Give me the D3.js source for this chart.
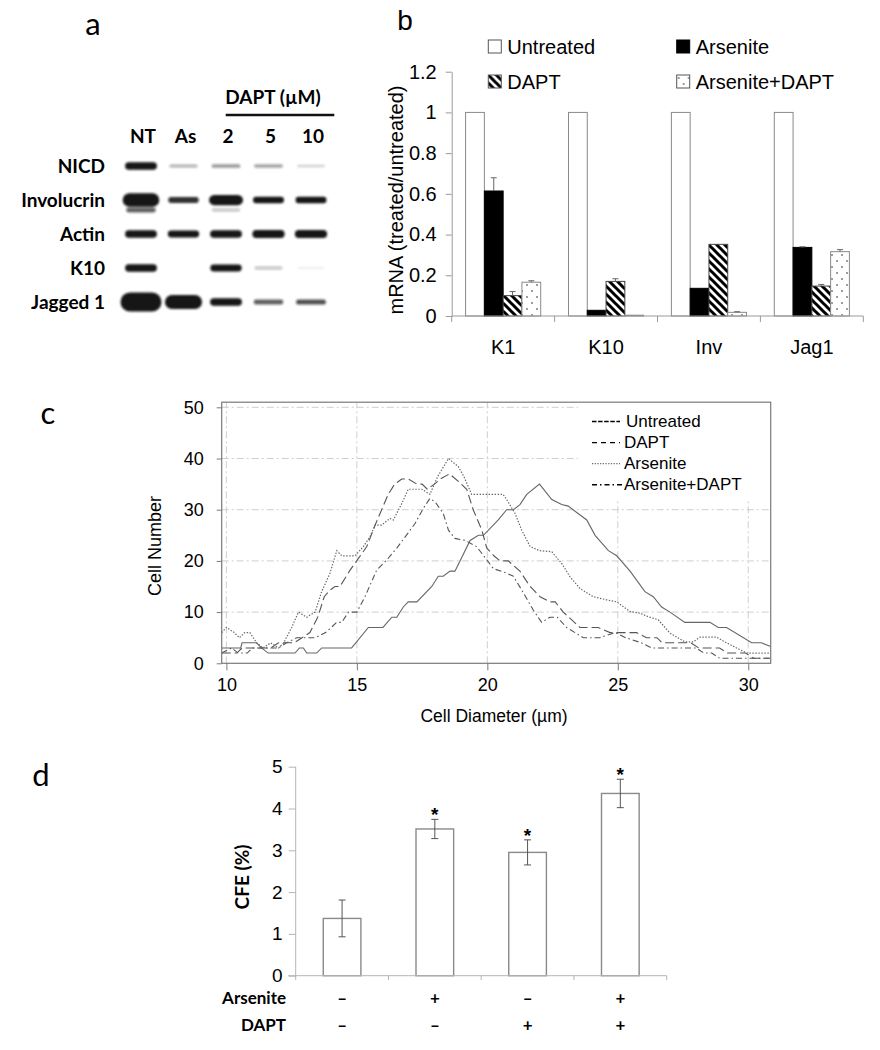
<!DOCTYPE html>
<html><head><meta charset="utf-8">
<script src="https://cdn.jsdelivr.net/npm/d3@7"></script>
<style>body{margin:0;background:#fff}svg{display:block}</style>
</head><body>
<svg id="fig" width="880" height="1050"></svg>
<script>
// ---------------- Panel a : western blot (relative band intensities) ----------------
const blotLanes = ["NT","As","2","5","10"];
const blotRows = ["NICD","Involucrin","Actin","K10","Jagged 1"];
const blotNICD = [0.55,0.15,0.2,0.18,0.08];
const blotInvolucrin = [1.1,0.4,0.8,0.45,0.45];
const blotInvolucrinLower = [0.3,0,0.12,0,0];
const blotActin = [0.55,0.5,0.55,0.6,0.6];
const blotK10 = [0.55,0,0.5,0.12,0.03];
const blotJagged1 = [1.6,1.15,0.55,0.3,0.33];

// ---------------- Panel b : mRNA ----------------
const mrnaGenes = ["K1","K10","Inv","Jag1"];
const mrnaSeries = ["Untreated","Arsenite","DAPT","Arsenite+DAPT"];
const mrnaUntreated = [1,1,1,1];
const mrnaArsenite = [0.614,0.028,0.136,0.337];
const mrnaDAPT = [0.10,0.17,0.352,0.147];
const mrnaArsDAPT = [0.166,0.004,0.018,0.316];
const mrnaErrUntreated = [0,0,0,0];
const mrnaErrArsenite = [0.065,0,0,0.003];
const mrnaErrDAPT = [0.02,0.013,0,0.008];
const mrnaErrArsDAPT = [0.007,0,0.003,0.01];
const mrnaTicks = [0,0.2,0.4,0.6,0.8,1,1.2];

// ---------------- Panel c : cell size distribution [diameter µm, cell number] ----------------
const sizeUntreated = [[9.82,3],[10.55,3],[10.6,4],[11.15,4],[11.35,3],[11.6,2],[12.63,2],[12.8,3],[12.95,3],[13.08,2],[13.46,2],[13.65,3],[14.8,3],[15.44,7],[16.0,7],[16.34,9],[16.53,9],[16.78,11],[16.97,12],[17.3,12],[17.87,15],[18.12,17],[18.31,17],[18.57,18],[18.76,18],[19.34,24],[19.66,25],[19.85,25],[20.42,28],[20.74,30],[21.0,30],[21.25,31],[21.51,33],[22.0,35],[22.47,32],[22.85,31],[23.1,30.7],[23.81,28],[24.13,25],[24.64,22],[24.96,21],[25.47,18],[26.04,14],[26.36,13],[26.68,11],[27.0,10],[27.57,8],[28.53,8],[28.85,7],[29.17,7],[30.13,4],[30.5,4],[30.86,3.3]];
const sizeDAPT = [[9.82,2],[10.4,2],[10.6,3],[11.5,3],[11.7,3],[12.0,4],[12.6,4],[12.9,5],[13.2,6],[13.5,9],[13.75,13],[13.97,14.3],[14.16,15],[14.35,15],[14.74,18.2],[15.06,20.5],[15.38,22.8],[15.7,27],[15.95,30],[16.2,33],[16.45,35],[16.72,36],[16.97,36],[17.3,35],[17.5,35],[17.7,34],[17.97,35],[18.2,36],[18.55,37],[18.9,35.5],[19.21,34],[19.46,30],[19.79,26],[19.98,22.5],[20.25,21],[20.49,20],[20.8,20],[21.25,18],[21.64,15],[22.02,13],[22.4,12],[22.6,12],[22.91,10],[23.55,7],[24.25,7],[24.7,6],[25.72,6],[26.1,5],[26.5,5],[26.7,4],[27.8,4],[28.1,3],[28.9,3],[29.2,2],[29.9,2],[30.2,1],[30.86,1]];
const sizeArsenite = [[9.82,6],[10.0,7],[10.3,6],[10.5,5],[10.7,6],[10.9,6],[11.16,4],[11.4,3],[11.7,4],[12.0,3],[12.2,4],[12.5,7],[12.76,10],[13.08,9],[13.4,10],[13.65,14],[13.97,17.6],[14.23,22],[14.42,21],[14.93,21],[15.25,22.8],[15.5,24.7],[15.7,27],[15.95,27],[16.27,28.3],[16.4,28],[16.72,31.2],[16.97,34],[17.49,34],[17.8,33],[18.1,36.5],[18.51,40],[18.89,38.4],[19.1,36.5],[19.4,33],[20.6,33],[20.74,32],[21.06,29.3],[21.32,26],[21.64,22.8],[22.0,22],[22.47,21.8],[22.85,19.5],[23.17,16.9],[23.55,14.6],[24.06,13],[24.57,12.4],[24.96,12],[25.47,10.1],[25.85,9.8],[26.17,9.1],[26.55,8.5],[27.0,5.9],[27.57,4.2],[27.89,4.2],[28.15,5.1],[28.79,5.1],[29.17,4],[29.55,3],[29.94,2],[30.86,2]];
const sizeArsDAPT = [[9.82,2],[10.2,3],[10.45,2],[10.8,2],[11.0,3],[12.0,3],[12.3,4],[12.7,5],[13.4,5],[13.8,6],[14.23,8],[14.42,8],[14.68,10],[15.0,10],[15.31,13],[15.76,18.2],[16.15,20.2],[16.53,22.5],[16.91,25.1],[17.23,27.3],[17.55,30.3],[17.8,32.2],[18.0,31.5],[18.31,29.3],[18.51,26],[18.76,24.4],[19.15,24],[19.59,22.8],[19.98,20.2],[20.23,18.5],[20.74,17.6],[21.0,17],[21.32,14.3],[21.76,10.4],[22.08,8],[22.4,9],[22.68,9],[23.04,7],[23.68,5],[24.3,5],[24.9,6],[25.3,5],[25.9,4],[26.3,3],[28.0,3],[28.3,2],[28.6,2],[28.9,1],[30.86,1]];
const sizeXTicks = [10,15,20,25,30];
const sizeYTicks = [0,10,20,30,40,50];
const sizeSeries = ["Untreated","DAPT","Arsenite","Arsenite+DAPT"];

// ---------------- Panel d : CFE ----------------
const cfeGroups = ["g1","g2","g3","g4"];
const cfeValues = [1.37,3.51,2.95,4.36];
const cfeErr = [0.44,0.23,0.30,0.34];
const cfeArsenite = ["–","+","–","+"];
const cfeDAPT = ["–","–","+","+"];
const cfeSignificant = [false,true,true,true];
const cfeTicks = [0,1,2,3,4,5];

// =======================================================
const ARIAL = "'Liberation Sans', Arial, sans-serif";
const CAL = "Lato, 'Open Sans', sans-serif";
const svg = d3.select("#fig");
const defs = svg.append("defs");
defs.append("filter").attr("id","blur").attr("x","-30%").attr("y","-100%").attr("width","160%").attr("height","300%")
  .append("feGaussianBlur").attr("stdDeviation",0.9);
const hatch = defs.append("pattern").attr("id","hatch").attr("patternUnits","userSpaceOnUse").attr("width",8).attr("height",8);
hatch.append("rect").attr("width",8).attr("height",8).attr("fill","#fff");
hatch.append("path").attr("d","M-2,-2L10,10M-2,6L2,10M6,-2L10,2").attr("stroke","#000").attr("stroke-width",3);
const dots = defs.append("pattern").attr("id","dots").attr("patternUnits","userSpaceOnUse").attr("width",10).attr("height",12);
dots.append("rect").attr("width",10).attr("height",12).attr("fill","#fff");
dots.append("circle").attr("cx",2).attr("cy",3).attr("r",0.8).attr("fill","#222");
dots.append("circle").attr("cx",7).attr("cy",9).attr("r",0.8).attr("fill","#222");

// ---------------- Panel a ----------------
const gA = svg.append("g");
gA.append("text").attr("x",93).attr("y",35).attr("text-anchor","middle").attr("font-family",CAL).attr("font-size",31).text("a");
const laneX = d3.scalePoint().domain(blotLanes).range([141,311]);
const rowY = d3.scalePoint().domain(blotRows).range([166,302]);
const bandH = d3.scaleLinear().domain([0,1.6]).range([1.5,19]);
const bandW = d3.scaleLinear().domain([0,1.6]).range([27,41]);
const bandOp = d3.scaleLinear().domain([0,0.45]).range([0,1]).clamp(true);
const blotSets = [
  {row:"NICD", vals:blotNICD, off:0},
  {row:"Involucrin", vals:blotInvolucrin, off:0},
  {row:"Involucrin", vals:blotInvolucrinLower, off:10},
  {row:"Actin", vals:blotActin, off:0},
  {row:"K10", vals:blotK10, off:0},
  {row:"Jagged 1", vals:blotJagged1, off:0}
];
const bands = [];
blotSets.forEach(s => s.vals.forEach((v,i) => { if (v>0) bands.push({row:s.row, lane:blotLanes[i], v, off:s.off}); }));
gA.append("g").attr("filter","url(#blur)").selectAll("rect").data(bands).join("rect")
  .attr("x", d => laneX(d.lane) - bandW(d.v)/2)
  .attr("y", d => rowY(d.row) + d.off - bandH(d.v)/2)
  .attr("width", d => bandW(d.v))
  .attr("height", d => bandH(d.v))
  .attr("rx", d => bandH(d.v)/2)
  .attr("fill","#151515")
  .attr("fill-opacity", d => bandOp(d.v));
gA.selectAll("text.row").data(blotRows).join("text").attr("class","row")
  .attr("x",105).attr("y", d => rowY(d) + 6.5).attr("text-anchor","end")
  .attr("font-family",CAL).attr("font-weight","bold").attr("font-size",19).text(d => d);
gA.selectAll("text.lane").data(blotLanes).join("text").attr("class","lane")
  .attr("x", d => laneX(d) + 2).attr("y",142.5).attr("text-anchor","middle")
  .attr("font-family",CAL).attr("font-weight","bold").attr("font-size",19).text(d => d);
gA.append("text").attr("x",273).attr("y",104).attr("text-anchor","middle")
  .attr("font-family",CAL).attr("font-weight","bold").attr("font-size",19).text("DAPT (µM)");
gA.append("line").attr("x1",225.7).attr("x2",334.3).attr("y1",115).attr("y2",115).attr("stroke","#111").attr("stroke-width",2.5);

// ---------------- Panel b ----------------
const gB = svg.append("g");
gB.append("text").attr("x",405).attr("y",30).attr("text-anchor","middle").attr("font-family",ARIAL).attr("font-size",28).text("b");
const xB = d3.scaleBand().domain(mrnaGenes).range([451.7,863.3]).paddingInner(0.27).paddingOuter(0.135);
const xB2 = d3.scaleBand().domain(mrnaSeries).range([0,xB.bandwidth()]);
const yB = d3.scaleLinear().domain([0,1.2]).range([316,71.7]);
const seriesVals = [mrnaUntreated, mrnaArsenite, mrnaDAPT, mrnaArsDAPT];
const seriesErr = [mrnaErrUntreated, mrnaErrArsenite, mrnaErrDAPT, mrnaErrArsDAPT];
const seriesFill = ["#fff","#000","url(#hatch)","url(#dots)"];
const seriesStroke = ["#8a8a8a","#000","#444","#8a8a8a"];
const barsB = [];
mrnaGenes.forEach((g,gi) => mrnaSeries.forEach((s,si) => barsB.push({g, s, si, v:seriesVals[si][gi], e:seriesErr[si][gi]})));
gB.selectAll("rect.bar").data(barsB).join("rect").attr("class","bar")
  .attr("x", d => xB(d.g) + xB2(d.s))
  .attr("y", d => yB(d.v))
  .attr("width", xB2.bandwidth())
  .attr("height", d => yB(0) - yB(d.v))
  .attr("fill", d => seriesFill[d.si])
  .attr("stroke", d => seriesStroke[d.si]).attr("stroke-width",1);
const errB = barsB.filter(d => d.e > 0);
gB.selectAll("path.err").data(errB).join("path").attr("class","err")
  .attr("d", d => { const cx = xB(d.g) + xB2(d.s) + xB2.bandwidth()/2, t = yB(d.v + d.e), b = yB(d.v);
     return `M${cx},${b}V${t}M${cx-3},${t}H${cx+3}`; })
  .attr("stroke","#666").attr("stroke-width",1).attr("fill","none");
const axB = gB.append("g").attr("transform","translate(451.7,0)")
  .call(d3.axisLeft(yB).tickValues(mrnaTicks).tickFormat(d3.format("")).tickSize(6).tickSizeOuter(0).tickPadding(9));
axB.selectAll("path,line").attr("stroke","#9a9a9a");
axB.selectAll("text").attr("font-family",ARIAL).attr("font-size",20).attr("fill","#000");
gB.append("line").attr("x1",451.7).attr("x2",863.3).attr("y1",316).attr("y2",316).attr("stroke","#9a9a9a");
const sepB = mrnaGenes.map(g => xB(g) - xB.step()*xB.paddingInner()/2).concat([863.3]);
sepB[0] = 451.7;
gB.selectAll("line.sep").data(sepB).join("line").attr("class","sep")
  .attr("x1", d => d).attr("x2", d => d).attr("y1",316).attr("y2",322).attr("stroke","#9a9a9a");
gB.selectAll("text.cat").data(mrnaGenes).join("text").attr("class","cat")
  .attr("x", d => xB(d) + xB.bandwidth()/2).attr("y",354).attr("text-anchor","middle")
  .attr("font-family",ARIAL).attr("font-size",20).text(d => d);
gB.append("text").attr("transform","translate(403,200) rotate(-90)").attr("text-anchor","middle")
  .attr("font-family",ARIAL).attr("font-size",20).text("mRNA (treated/untreated)");
const legB = [{s:"Untreated",c:0,r:0},{s:"Arsenite",c:1,r:0},{s:"DAPT",c:0,r:1},{s:"Arsenite+DAPT",c:1,r:1}];
const legBx = [488.3,676.7], legBy = [40,75];
const lgB = gB.selectAll("g.leg").data(legB).join("g").attr("class","leg")
  .attr("transform", d => `translate(${legBx[d.c]},${legBy[d.r]})`);
lgB.append("rect").attr("width",13).attr("height",13)
  .attr("fill", d => seriesFill[mrnaSeries.indexOf(d.s)]).attr("stroke", d => d.s==="Arsenite" ? "#000" : "#555");
lgB.append("text").attr("x",19).attr("y",13.5).attr("font-family",ARIAL).attr("font-size",20).text(d => d.s);

// ---------------- Panel c ----------------
const gC = svg.append("g");
gC.append("text").attr("x",48).attr("y",424).attr("text-anchor","middle").attr("font-family",CAL).attr("font-size",31).text("c");
const xC = d3.scaleLinear().domain([9.82,30.86]).range([221.7,770.7]);
const yC = d3.scaleLinear().domain([0,51]).range([663.3,402.2]);
const gridC = gC.append("g").attr("stroke","#cfcfcf").attr("stroke-dasharray","7,3,2,3").attr("stroke-width",1);
gridC.selectAll("line.v").data(sizeXTicks).join("line").attr("class","v")
  .attr("x1", d => xC(d)).attr("x2", d => xC(d)).attr("y1",yC(0)).attr("y2",yC(51));
gridC.selectAll("line.h").data(sizeYTicks.filter(d => d>0)).join("line").attr("class","h")
  .attr("x1",xC.range()[0]).attr("x2",xC.range()[1]).attr("y1", d => yC(d)).attr("y2", d => yC(d));
const lineC = d3.line().x(d => xC(d[0])).y(d => yC(d[1]));
const seriesC = [
  {name:"Untreated", data:sizeUntreated, dash:null, color:"#666", w:1.1},
  {name:"DAPT", data:sizeDAPT, dash:"9,4", color:"#555", w:1.1},
  {name:"Arsenite", data:sizeArsenite, dash:"1.4,1.6", color:"#666", w:1.2},
  {name:"Arsenite+DAPT", data:sizeArsDAPT, dash:"6,3,1.5,3", color:"#555", w:1.1}
];
gC.selectAll("path.ser").data(seriesC).join("path").attr("class","ser")
  .attr("d", d => lineC(d.data)).attr("fill","none")
  .attr("stroke", d => d.color).attr("stroke-width", d => d.w)
  .attr("stroke-dasharray", d => d.dash);
// legend (white box hides grid)
gC.append("rect").attr("x",578).attr("y",403).attr("width",192).attr("height",97).attr("fill","#fff");
const legDash = ["4.5,1.6","5,4","1.2,1.5","5,3,1.5,3"];
const legColor = ["#000","#000","#666","#000"];
const lgC = gC.selectAll("g.legc").data(sizeSeries).join("g").attr("class","legc")
  .attr("transform",(d,i) => `translate(0,${427 + i*21.1})`);
lgC.append("line").attr("x1",592).attr("x2",(d,i) => i===3 ? 622 : 620).attr("y1",-5.5).attr("y2",-5.5)
  .attr("stroke",(d,i) => legColor[i]).attr("stroke-width",(d,i) => i===2 ? 1.3 : 1.4).attr("stroke-dasharray",(d,i) => legDash[i]);
lgC.append("text").attr("x",(d,i) => i===0 ? 626 : 624).attr("y",0).attr("font-family",ARIAL).attr("font-size",17).text(d => d);
gC.append("rect").attr("x",221.7).attr("y",402.2).attr("width",549).attr("height",261.1)
  .attr("fill","none").attr("stroke","#7a7a7a").attr("stroke-width",1.2);
const axCx = gC.append("g").attr("transform","translate(0,663.3)")
  .call(d3.axisBottom(xC).tickValues(sizeXTicks).tickFormat(d3.format("d")).tickSize(7).tickSizeOuter(0).tickPadding(8));
axCx.select("path").remove();
axCx.selectAll("line").attr("stroke","#7a7a7a");
axCx.selectAll("text").attr("font-family",ARIAL).attr("font-size",18).attr("fill","#000");
const axCy = gC.append("g").attr("transform","translate(221.7,0)")
  .call(d3.axisLeft(yC).tickValues(sizeYTicks).tickFormat(d3.format("d")).tickSize(5).tickSizeOuter(0).tickPadding(13));
axCy.select("path").remove();
axCy.selectAll("line").attr("stroke","#7a7a7a");
axCy.selectAll("text").attr("font-family",ARIAL).attr("font-size",18).attr("fill","#000");
gC.append("text").attr("x",494).attr("y",722).attr("text-anchor","middle").attr("font-family",ARIAL).attr("font-size",17.5).text("Cell Diameter (µm)");
gC.append("text").attr("transform","translate(161,546) rotate(-90)").attr("text-anchor","middle")
  .attr("font-family",ARIAL).attr("font-size",18).text("Cell Number");

// ---------------- Panel d ----------------
const gD = svg.append("g");
gD.append("text").attr("x",41).attr("y",786).attr("text-anchor","middle").attr("font-family",CAL).attr("font-size",31).text("d");
const xD = d3.scaleBand().domain(cfeGroups).range([295.7,666.7]).paddingInner(0.594).paddingOuter(0.297);
const yD = d3.scaleLinear().domain([0,5]).range([975.7,766.7]);
gD.selectAll("rect.bar").data(cfeValues).join("rect").attr("class","bar")
  .attr("x",(d,i) => xD(cfeGroups[i])).attr("y", d => yD(d))
  .attr("width", xD.bandwidth()).attr("height", d => yD(0) - yD(d))
  .attr("fill","#fff").attr("stroke","#8a8a8a").attr("stroke-width",1.4);
gD.selectAll("path.err").data(cfeValues).join("path").attr("class","err")
  .attr("d",(d,i) => { const cx = xD(cfeGroups[i]) + xD.bandwidth()/2, t = yD(d + cfeErr[i]), b = yD(d - cfeErr[i]);
     return `M${cx},${b}V${t}M${cx-3.5},${t}H${cx+3.5}M${cx-3.5},${b}H${cx+3.5}`; })
  .attr("stroke","#555").attr("stroke-width",1).attr("fill","none");
gD.selectAll("text.sig").data(cfeValues.map((v,i) => ({v, i})).filter(d => cfeSignificant[d.i])).join("text").attr("class","sig")
  .attr("x", d => xD(cfeGroups[d.i]) + xD.bandwidth()/2).attr("y", d => yD(d.v + cfeErr[d.i]) + 2)
  .attr("text-anchor","middle").attr("font-family",ARIAL).attr("font-weight","bold").attr("font-size",19).text("*");
const axD = gD.append("g").attr("transform","translate(295.7,0)")
  .call(d3.axisLeft(yD).tickValues(cfeTicks).tickFormat(d3.format("d")).tickSize(7).tickSizeOuter(0).tickPadding(6));
axD.selectAll("path,line").attr("stroke","#b5b5b5");
axD.select("path").attr("d","M0,766.7V980");
axD.selectAll("text").attr("font-family",ARIAL).attr("font-size",19).attr("fill","#000");
gD.append("line").attr("x1",288).attr("x2",666.7).attr("y1",975.7).attr("y2",975.7).attr("stroke","#b5b5b5");
const sepD = cfeGroups.map(g => xD(g) - xD.step()*xD.paddingInner()/2).concat([666.7]);
sepD[0] = 295.7;
gD.selectAll("line.sep").data(sepD.slice(1)).join("line").attr("class","sep")
  .attr("x1", d => d).attr("x2", d => d).attr("y1",975.7).attr("y2",980).attr("stroke","#b5b5b5");
gD.append("text").attr("transform","translate(249,877) rotate(-90)").attr("text-anchor","middle")
  .attr("font-family",CAL).attr("font-weight","bold").attr("font-size",19).text("CFE (%)");
gD.append("text").attr("x",286).attr("y",1004).attr("text-anchor","end").attr("font-family",CAL).attr("font-weight","bold").attr("font-size",17).text("Arsenite");
gD.append("text").attr("x",286).attr("y",1030.5).attr("text-anchor","end").attr("font-family",CAL).attr("font-weight","bold").attr("font-size",17).text("DAPT");
gD.selectAll("text.ars").data(cfeArsenite).join("text").attr("class","ars")
  .attr("x",(d,i) => xD(cfeGroups[i]) + xD.bandwidth()/2).attr("y",1004).attr("text-anchor","middle")
  .attr("font-family",CAL).attr("font-weight","bold").attr("font-size",17).text(d => d);
gD.selectAll("text.dapt").data(cfeDAPT).join("text").attr("class","dapt")
  .attr("x",(d,i) => xD(cfeGroups[i]) + xD.bandwidth()/2).attr("y",1030.5).attr("text-anchor","middle")
  .attr("font-family",CAL).attr("font-weight","bold").attr("font-size",17).text(d => d);
</script>
</body></html>
